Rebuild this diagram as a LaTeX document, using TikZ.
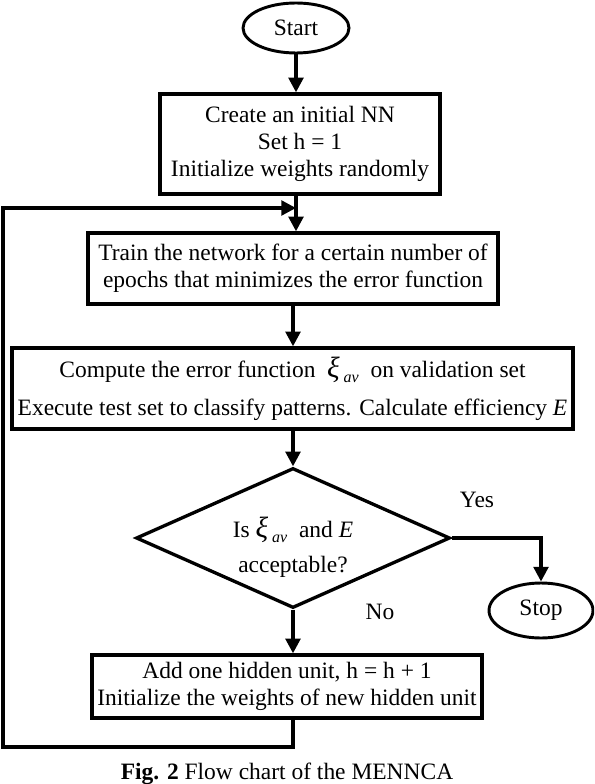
\documentclass[tikz,border=0pt]{standalone}
\usepackage{fontspec}
\setmainfont{Liberation Serif}
\usetikzlibrary{shapes.geometric,arrows.meta}
\begin{document}
\begin{tikzpicture}[x=0.75pt,y=-0.75pt,
  every node/.style={font=\fontsize{17.6}{20.25}\selectfont},
  box/.style={draw,line width=2.5pt,align=center,inner sep=0pt},
  oval/.style={draw,ellipse,line width=2.2pt,inner sep=0pt},
  dia/.style={draw,diamond,line width=2.5pt,inner sep=0pt},
  arr/.style={line width=2.5pt,-{Triangle[length=11pt,width=11pt]}},
  lbl/.style={inner sep=0pt}]
\useasboundingbox (0,0) rectangle (594,784);
\clip (0,0) rectangle (594,784);
\node[oval,minimum width=79.5pt,minimum height=37.5pt] (start) at (296,28) {Start};
\node[box,minimum width=210pt,minimum height=75pt] (box1) at (300,144)
  {Create an initial NN\\Set h = 1\\Initialize weights randomly};
\node[box,minimum width=307.5pt,minimum height=53.25pt] (box2) at (293,268.5)
  {Train the network for a certain number of\\epochs that minimizes the error function};
\node[box,minimum width=420.75pt,minimum height=60.75pt] (box3) at (292.5,388.5)
  {Compute the error function~~{\fontsize{22}{20}\selectfont\itshape ξ}\,\raisebox{-0.5ex}{\fontsize{12}{12}\selectfont\itshape av}~~on validation set\\[8pt]
   Execute test set to classify patterns. Calculate efficiency \textit{E}};
\node[dia,minimum width=235.5pt,minimum height=105pt] (dia) at (293,538) {};
\node[lbl,align=center] (dq) at (293,547)
  {Is~{\fontsize{22}{20}\selectfont\itshape ξ}\,\raisebox{-0.5ex}{\fontsize{12}{12}\selectfont\itshape av}~~and \textit{E}\\[6pt]acceptable?};
\node[oval,minimum width=78pt,minimum height=41.25pt] (stop) at (541,610.5) {Stop};
\node[box,minimum width=292.5pt,minimum height=47.25pt] (box4) at (287,686.5)
  {Add one hidden unit, h = h + 1\\Initialize the weights of new hidden unit};
\node[lbl] (yes) at (477,500) {Yes};
\node[lbl] (no) at (380,612) {No};
\node[anchor=base,inner sep=0pt] (cap) at (287,779) {\textbf{Fig. 2} Flow chart of the MENNCA};
\coordinate (lb) at (3,747);
\coordinate (join) at (296,208);
\draw[arr] (start.south) -- (start.south |- box1.north);
\draw[arr] (start.south |- box1.south) -- (start.south |- box2.north);
\draw[arr] (box2.south) -- (box2.south |- box3.north);
\draw[arr] (dia.north |- box3.south) -- (dia.north);
\draw[arr] (dia.east) -| (stop.north);
\draw[arr] (dia.south) -- (dia.south |- box4.north);
\draw[arr] (dia.south |- box4.south) |- (lb) |- (join);
\end{tikzpicture}
\end{document}
